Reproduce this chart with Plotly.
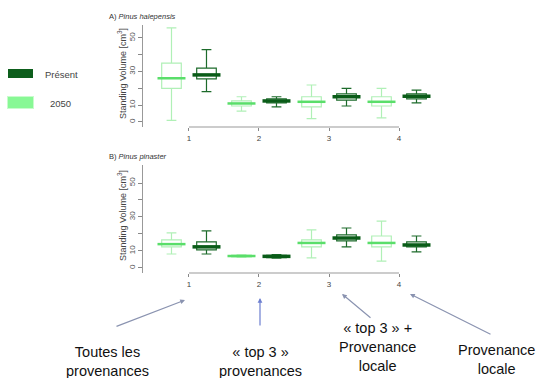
import plotly.graph_objects as go

W, H = 538, 378

# ---------------- data ----------------
groups = [1, 2, 3, 4]
group_labels = ["1", "2", "3", "4"]

# Panel A : Pinus halepensis
a_pres_q1 = [25.6, 11.3, 13.0, 13.7]
a_pres_med = [28.0, 12.5, 15.0, 15.3]
a_pres_q3 = [32.0, 13.7, 16.7, 16.7]
a_pres_lo = [18.0, 9.0, 9.5, 11.3]
a_pres_hi = [43.0, 15.0, 20.0, 19.0]

a_fut_q1 = [20.0, 9.5, 9.0, 9.5]
a_fut_med = [26.0, 11.0, 12.0, 12.0]
a_fut_q3 = [35.0, 12.5, 15.0, 15.0]
a_fut_lo = [1.0, 6.5, 2.0, 2.4]
a_fut_hi = [56.0, 15.0, 22.0, 20.0]

# Panel B : Pinus pinaster
b_pres_q1 = [10.6, 6.0, 15.9, 12.4]
b_pres_med = [12.4, 6.8, 17.6, 13.5]
b_pres_q3 = [15.3, 7.4, 19.4, 15.3]
b_pres_lo = [8.2, 5.8, 12.4, 9.4]
b_pres_hi = [21.8, 7.9, 23.5, 18.8]

b_fut_q1 = [12.4, 6.5, 12.4, 12.4]
b_fut_med = [14.0, 7.0, 14.7, 14.7]
b_fut_q3 = [16.5, 7.6, 16.5, 18.8]
b_fut_lo = [8.2, 6.2, 5.9, 4.0]
b_fut_hi = [20.6, 7.8, 22.4, 27.6]

y_ticks = [0, 10, 20, 30, 40, 50]
y_ticktext = ["0", "10", "", "30", "", "50"]

series_names = ["Présent", "2050"]
bottom_labels = ["Toutes les<br>provenances", "« top 3 »<br>provenances",
                 "« top 3 » +<br>Provenance<br>locale", "Provenance<br>locale"]

# ---------------- styles ----------------
DARK_LINE = "#1d6b2b"
DARK_MED = "#0a5c18"
LIGHT_LINE = "#b0f0b6"
LIGHT_MED = "#5ade6a"
OFF = 0.25
BOXW = 0.28


def px(x):
    return x / W


def py(y):
    return 1 - y / H


fig = go.Figure()


def add_panel(xa, ya, q1f, medf, q3f, lof, hif, q1p, medp, q3p, lop, hip):
    xf = [g - OFF for g in groups]
    xp = [g + OFF for g in groups]
    for xs, q1, med, q3, lo, hi, lc, mc, mw, name in [
        (xf, q1f, medf, q3f, lof, hif, LIGHT_LINE, LIGHT_MED, 2.5, series_names[1]),
        (xp, q1p, medp, q3p, lop, hip, DARK_LINE, DARK_MED, 3.5, series_names[0]),
    ]:
        fig.add_trace(go.Box(
            x=xs, q1=q1, median=med, q3=q3, lowerfence=lo, upperfence=hi,
            width=BOXW, whiskerwidth=0.5, boxpoints=False,
            line=dict(color=lc, width=1.2), fillcolor="white",
            xaxis=xa, yaxis=ya, showlegend=False, name=name, hoverinfo="skip"))
        fig.add_trace(go.Scatter(
            x=xs, y=med, mode="markers",
            marker=dict(symbol="line-ew", size=20, line=dict(color=mc, width=mw)),
            xaxis=xa, yaxis=ya, showlegend=False, hoverinfo="skip"))


add_panel("x", "y", a_fut_q1, a_fut_med, a_fut_q3, a_fut_lo, a_fut_hi,
          a_pres_q1, a_pres_med, a_pres_q3, a_pres_lo, a_pres_hi)
add_panel("x2", "y2", b_fut_q1, b_fut_med, b_fut_q3, b_fut_lo, b_fut_hi,
          b_pres_q1, b_pres_med, b_pres_q3, b_pres_lo, b_pres_hi)

xdom = [px(143), px(434)]
xrange_ = [0.343, 4.5]
common_x = dict(range=xrange_, domain=xdom, tickvals=groups, ticktext=group_labels,
                ticks="outside", ticklen=3, tickcolor="#888", showline=False,
                showgrid=False, zeroline=False,
                tickfont=dict(size=8, color="#444", family="Liberation Sans"))
common_y = dict(tickvals=y_ticks, ticktext=y_ticktext, ticks="outside", ticklen=4,
                tickcolor="#888", showline=True, linecolor="#999", linewidth=1,
                showgrid=False, zeroline=False, tickangle=-90,
                tickfont=dict(size=8, color="#555", family="Liberation Sans"))

fig.update_layout(
    width=W, height=H, margin=dict(l=0, r=0, t=0, b=0),
    paper_bgcolor="white", plot_bgcolor="white", boxmode="overlay",
    showlegend=False,
    xaxis=dict(anchor="y", **common_x),
    yaxis=dict(anchor="x", domain=[py(127), py(25)], range=[-3, 57.7], **common_y),
    xaxis2=dict(anchor="y2", **common_x),
    yaxis2=dict(anchor="x2", domain=[py(273), py(165)], range=[-3, 60.6], **common_y),
)

# R-style x axis lines spanning first to last group
for xr, yr in [("x", "y domain"), ("x2", "y2 domain")]:
    fig.add_shape(type="line", xref=xr, yref=yr, x0=groups[0], x1=groups[-1],
                  y0=0, y1=0, line=dict(color="#999", width=1))

ann = []
# panel titles
ann.append(dict(text="A) <i>Pinus halepensis</i>", x=px(107), y=py(16), xanchor="left",
                yanchor="middle", font=dict(size=7.5, color="#333", family="Liberation Sans")))
ann.append(dict(text="B) <i>Pinus pinaster</i>", x=px(107), y=py(156), xanchor="left",
                yanchor="middle", font=dict(size=7.5, color="#333", family="Liberation Sans")))
# y titles
for yc in [74, 216]:
    ann.append(dict(text="Standing Volume [cm<sup>3</sup>]", x=px(122), y=py(yc),
                    textangle=-90, xanchor="center", yanchor="middle",
                    font=dict(size=9, color="#444", family="Liberation Sans")))
# legend
fig.add_shape(type="rect", xref="paper", yref="paper", x0=px(8), x1=px(33),
              y0=py(78), y1=py(69), fillcolor="#0d5e1c", line=dict(width=0))
fig.add_shape(type="rect", xref="paper", yref="paper", x0=px(7), x1=px(34),
              y0=py(109), y1=py(96), fillcolor="#c8fccc", line=dict(width=0))
fig.add_shape(type="rect", xref="paper", yref="paper", x0=px(8), x1=px(33),
              y0=py(108), y1=py(97), fillcolor="#88f895", line=dict(width=0))
ann.append(dict(text=series_names[0], x=px(43), y=py(74), xanchor="left", yanchor="middle",
                font=dict(size=9.5, color="#444", family="Liberation Sans")))
ann.append(dict(text=series_names[1], x=px(48), y=py(103), xanchor="left", yanchor="middle",
                font=dict(size=9.5, color="#444", family="Liberation Sans")))

# bottom labels
for (cx, cy), t in zip([(107, 361), (260, 361), (377, 347), (496, 359)], bottom_labels):
    ann.append(dict(text=t, x=px(cx), y=py(cy), xanchor="center", yanchor="middle",
                    showarrow=False,
                    font=dict(size=14.5, color="#111", family="Liberation Sans")))

# arrows
for (hx, hy, axo, ayo, col) in [(185, 300, -70, 27, "#8a93b0"), (260, 298, 0, 29, "#6d7fd0"),
                                (342, 294, 30, 25, "#8a93b0"), (410, 294, 82, 41, "#8a93b0")]:
    ann.append(dict(text="", x=px(hx), y=py(hy), showarrow=True, ax=axo, ay=ayo,
                    arrowhead=2, arrowsize=0.8, arrowwidth=1.2, arrowcolor=col))

for a in ann:
    a.setdefault("xref", "paper")
    a.setdefault("yref", "paper")
    a.setdefault("showarrow", False)
fig.update_layout(annotations=ann)

fig.write_html("out.html", config={"displayModeBar": False},
               post_script="document.body.style.margin='0px';document.body.style.padding='0px';")
